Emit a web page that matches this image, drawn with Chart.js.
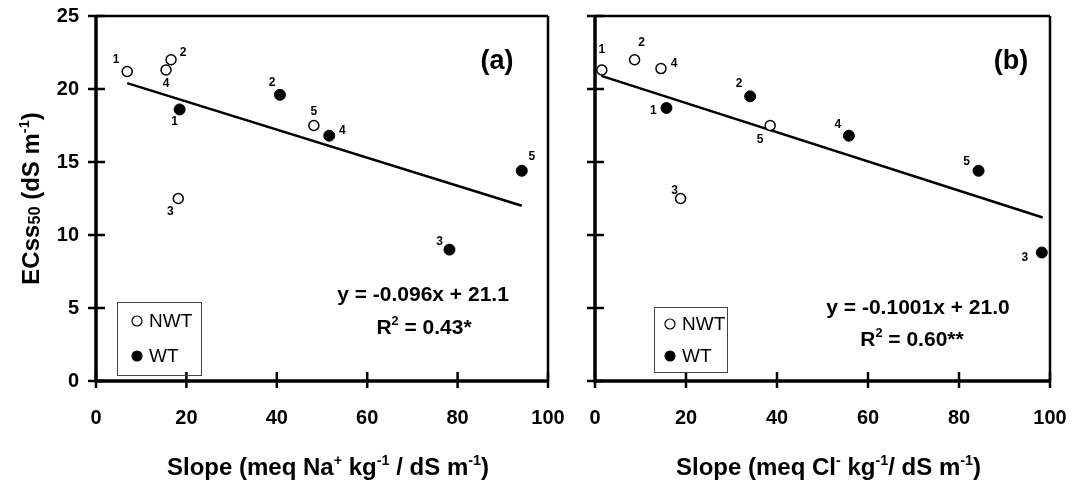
<!DOCTYPE html>
<html>
<head>
<meta charset="utf-8">
<script src="https://cdn.jsdelivr.net/npm/chart.js@4.4.1/dist/chart.umd.min.js"></script>
<style>
  html, body { margin:0; padding:0; background:#fff; }
  #wrap { position:relative; width:1075px; height:493px; }
  .panel { position:absolute; top:0; height:493px; }
  #pa { left:0; width:570px; }
  #pb { left:570px; width:505px; }
</style>
</head>
<body>
<div id="wrap">
  <div class="panel" id="pa"><canvas id="cA"></canvas></div>
  <div class="panel" id="pb"><canvas id="cB"></canvas></div>
</div>
<script>
const FONT = "'Liberation Sans', Arial, sans-serif";

// ── Data ─────────────────────────────────────
const ptLabels = ['1', '2', '3', '4', '5'];
const xTicks = [0, 20, 40, 60, 80, 100];
const yTicks = [0, 5, 10, 15, 20, 25];

// panel (a): slope Na+
const nwtA_x = [6.9, 16.6, 18.2, 15.5, 48.2];
const nwtA_y = [21.2, 22.0, 12.5, 21.3, 17.5];
const wtA_x  = [18.5, 40.7, 78.2, 51.6, 94.2];
const wtA_y  = [18.6, 19.6, 9.0, 16.8, 14.4];
const fitA_x = [6.9, 94.2];
const fitA_y = [20.4, 12.0];

// panel (b): slope Cl-
const nwtB_x = [1.5, 8.7, 18.8, 14.5, 38.5];
const nwtB_y = [21.3, 22.0, 12.5, 21.4, 17.5];
const wtB_x  = [15.7, 34.1, 98.2, 55.8, 84.3];
const wtB_y  = [18.7, 19.5, 8.8, 16.8, 14.4];
const fitB_x = [1.4, 98.4];
const fitB_y = [20.9, 11.2];

// point-number label offsets (px), order 1..5
const offNwtA = [[-11,-12],[12,-7],[-8,13],[0,14],[0,-14]];
const offWtA  = [[-5,12],[-8,-12],[-10,-8],[13,-5],[10,-14]];
const offNwtB = [[0,-20],[7,-17],[-6,-8],[13,-5],[-10,14]];
const offWtB  = [[-13,3],[-11,-13],[-17,5],[-11,-11],[-12,-9]];

// ── Helpers ──────────────────────────────────
const zip = (xs, ys) => xs.map((x, i) => ({x, y: ys[i]}));

function rich(ctx, segs, x, y, size, align) {
  const parts = segs.map(([t, k]) => {
    const fs = k === '^' ? size * 0.6 : k === '_' ? size * 0.68 : size;
    ctx.font = `bold ${fs}px ${FONT}`;
    return {t, k, fs, w: ctx.measureText(t).width};
  });
  const total = parts.reduce((a, p) => a + p.w, 0);
  let cx = align === 'center' ? x - total / 2 : x;
  ctx.textAlign = 'left';
  ctx.textBaseline = 'alphabetic';
  parts.forEach(p => {
    ctx.font = `bold ${p.fs}px ${FONT}`;
    const dy = p.k === '^' ? -size * 0.42 : p.k === '_' ? size * 0.06 : 0;
    ctx.fillText(p.t, cx, y + dy);
    cx += p.w;
  });
}

function line(ctx, x1, y1, x2, y2, w) {
  ctx.lineWidth = w;
  ctx.beginPath(); ctx.moveTo(x1, y1); ctx.lineTo(x2, y2); ctx.stroke();
}

// ── Decoration plugin ────────────────────────
const deco = {
  id: 'deco',
  beforeDatasetsDraw(chart, args, o) {
    const ctx = chart.ctx, ca = chart.chartArea;
    const sx = chart.scales.x, sy = chart.scales.y;
    ctx.save();
    ctx.strokeStyle = '#000';
    ctx.lineCap = 'butt';
    line(ctx, ca.left, ca.top, ca.right, ca.top, 2.5);
    line(ctx, ca.right, ca.top, ca.right, ca.bottom, 2.5);
    line(ctx, ca.left, ca.top - 1, ca.left, ca.bottom + 1.5, 3.5);
    line(ctx, ca.left, ca.bottom, ca.right, ca.bottom, 3.5);
    yTicks.forEach(v => {
      const py = sy.getPixelForValue(v);
      line(ctx, ca.left - 8, py, ca.left + 9, py, 2.5);
    });
    xTicks.forEach(v => {
      const px = sx.getPixelForValue(v);
      line(ctx, px, ca.bottom - 9, px, ca.bottom + 7, 2.5);
    });
    ctx.restore();
  },
  afterDatasetsDraw(chart, args, o) {
    const ctx = chart.ctx, ca = chart.chartArea;
    ctx.save();
    ctx.fillStyle = '#000';

    // point numbers
    ctx.font = `bold 12px ${FONT}`;
    ctx.textAlign = 'center';
    ctx.textBaseline = 'middle';
    [o.offNwt, o.offWt].forEach((offs, di) => {
      chart.getDatasetMeta(di).data.forEach((pt, i) => {
        ctx.fillText(ptLabels[i], pt.x + offs[i][0], pt.y + offs[i][1]);
      });
    });

    // panel tag
    ctx.font = `bold 27px ${FONT}`;
    ctx.fillText(o.tag, o.tagX, o.tagY);

    // regression text
    rich(ctx, [[o.eq, '']], o.eqX, o.eqY, 21, 'center');
    rich(ctx, [['R', ''], ['2', '^'], [o.r2, '']], o.r2X, o.r2Y, 21, 'center');

    // x title
    rich(ctx, o.xTitle, (ca.left + ca.right) / 2 + 6, 475, 24, 'center');

    // y title
    if (o.yTitle) {
      ctx.save();
      ctx.translate(39, (ca.top + ca.bottom) / 2);
      ctx.rotate(-Math.PI / 2);
      rich(ctx, o.yTitle, 0, 0, 24, 'center');
      ctx.restore();
    }

    // legend box
    const L = o.legend;
    ctx.strokeStyle = '#444';
    ctx.lineWidth = 1;
    ctx.strokeRect(L.x + 0.5, L.y + 0.5, L.w, L.h);
    const rows = [['NWT', '#fff', L.y1], ['WT', '#000', L.y2]];
    rows.forEach(([txt, fill, yy]) => {
      ctx.beginPath();
      ctx.arc(L.mx, yy, 5, 0, Math.PI * 2);
      ctx.fillStyle = fill; ctx.fill();
      ctx.strokeStyle = '#000'; ctx.lineWidth = 1.2; ctx.stroke();
      ctx.fillStyle = '#000';
      ctx.font = `19px ${FONT}`;
      ctx.textAlign = 'left';
      ctx.textBaseline = 'middle';
      ctx.fillText(txt, L.tx, yy + 1);
    });
    ctx.restore();
  }
};

// ── Charts ───────────────────────────────────
const tickFont = {family: FONT, size: 20, weight: 'bold'};

function makeChart(id, o) {
  return new Chart(document.getElementById(id), {
    type: 'scatter',
    data: {datasets: [
      {label: 'NWT', data: zip(o.nwtX, o.nwtY), pointRadius: 5, pointHoverRadius: 5,
       pointBackgroundColor: '#fff', pointBorderColor: '#000', pointBorderWidth: 1.5, clip: false},
      {label: 'WT', data: zip(o.wtX, o.wtY), pointRadius: 5.5, pointHoverRadius: 5.5,
       pointBackgroundColor: '#000', pointBorderColor: '#000', pointBorderWidth: 1, clip: false},
      {label: 'fit', data: zip(o.fitX, o.fitY), showLine: true, pointRadius: 0,
       borderColor: '#000', borderWidth: 2.5, clip: false}
    ]},
    options: {
      responsive: true, maintainAspectRatio: false, animation: false,
      layout: {padding: {top: 16, right: o.padRight, left: 0, bottom: 0}},
      scales: {
        x: {type: 'linear', min: 0, max: 100,
            afterBuildTicks: s => { s.ticks = xTicks.map(v => ({value: v})); },
            afterFit: s => { s.height = 112; s.paddingLeft = 0; s.paddingRight = 0; },
            grid: {display: false}, border: {display: false},
            ticks: {color: '#000', font: tickFont, padding: 17, maxRotation: 0, autoSkip: false}},
        y: {type: 'linear', min: 0, max: 25,
            afterBuildTicks: s => { s.ticks = yTicks.map(v => ({value: v})); },
            afterFit: s => { s.width = o.axisLeft; s.paddingTop = 0; s.paddingBottom = 0; },
            grid: {display: false}, border: {display: false},
            ticks: {display: o.yLabels, color: '#000', font: tickFont, padding: 9}}
      },
      plugins: {legend: {display: false}, tooltip: {enabled: false}, deco: o.deco}
    },
    plugins: [deco]
  });
}

makeChart('cA', {
  nwtX: nwtA_x, nwtY: nwtA_y, wtX: wtA_x, wtY: wtA_y, fitX: fitA_x, fitY: fitA_y,
  padRight: 22, axisLeft: 96, yLabels: true,
  deco: {
    offNwt: offNwtA, offWt: offWtA,
    tag: '(a)', tagX: 497, tagY: 62,
    eq: 'y = -0.096x + 21.1', eqX: 423, eqY: 301,
    r2: ' = 0.43*', r2X: 424, r2Y: 334,
    xTitle: [['Slope (meq Na', ''], ['+', '^'], [' kg', ''], ['-1', '^'], [' / dS m', ''], ['-1', '^'], [')', '']],
    yTitle: [['ECss', ''], ['50', '_'], [' (dS m', ''], ['-1', '^'], [')', '']],
    legend: {x: 117, y: 302, w: 84, h: 73, mx: 137, tx: 149, y1: 321, y2: 356}
  }
});

makeChart('cB', {
  nwtX: nwtB_x, nwtY: nwtB_y, wtX: wtB_x, wtY: wtB_y, fitX: fitB_x, fitY: fitB_y,
  padRight: 25, axisLeft: 25, yLabels: false,
  deco: {
    offNwt: offNwtB, offWt: offWtB,
    tag: '(b)', tagX: 441, tagY: 62,
    eq: 'y = -0.1001x + 21.0', eqX: 348, eqY: 314,
    r2: ' = 0.60**', r2X: 342, r2Y: 346,
    xTitle: [['Slope (meq Cl', ''], ['-', '^'], [' kg', ''], ['-1', '^'], ['/ dS m', ''], ['-1', '^'], [')', '']],
    yTitle: null,
    legend: {x: 84, y: 307, w: 73, h: 65, mx: 100, tx: 112, y1: 324, y2: 356}
  }
});
</script>
</body>
</html>
